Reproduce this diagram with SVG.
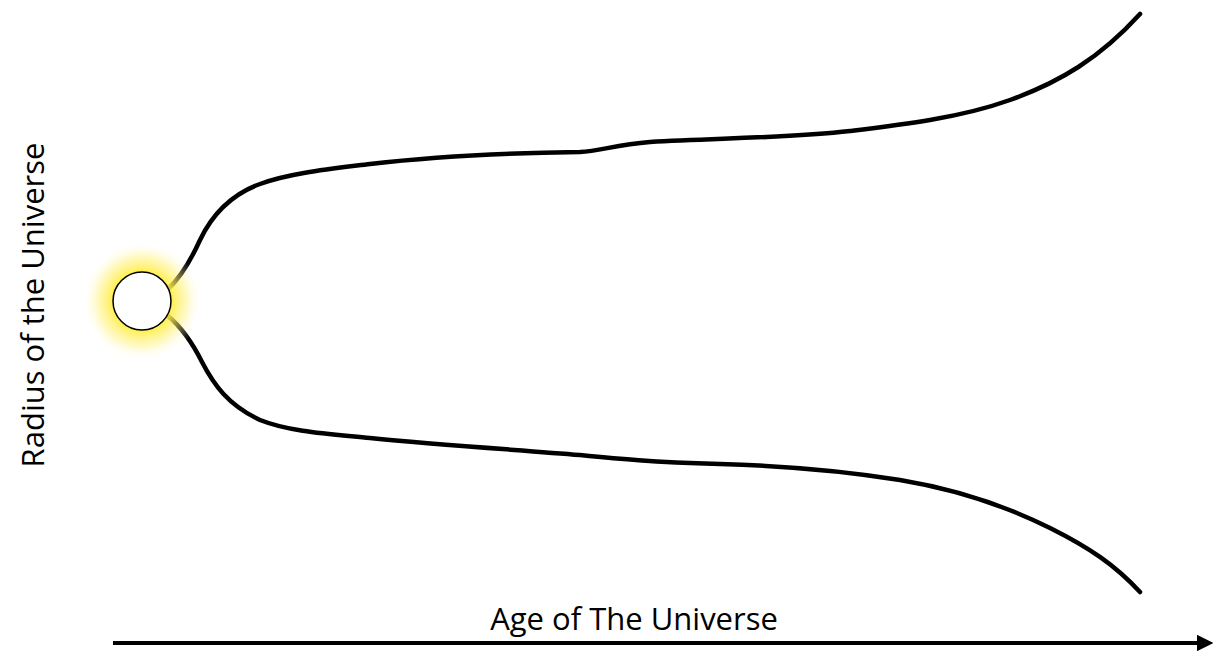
<svg xmlns="http://www.w3.org/2000/svg" width="1216" height="654" viewBox="0 0 1216 654">
<style>
.curve{fill:none;stroke:#000;stroke-width:4.5;stroke-linecap:round;stroke-linejoin:round}
.lbl{font-family:"Open Sans","Liberation Sans",sans-serif;font-size:31px;fill:#000}
</style>
<defs>
<radialGradient id="glow" cx="0.5" cy="0.5" r="0.5">
<stop offset="0.5" stop-color="#ffee44" stop-opacity="0.9"/>
<stop offset="0.75" stop-color="#fff27a" stop-opacity="0.45"/>
<stop offset="1" stop-color="#ffffff" stop-opacity="0"/>
</radialGradient>
<marker id="ah" viewBox="0 0 10 10" refX="2" refY="5" markerWidth="4.2" markerHeight="4.2" orient="auto" markerUnits="strokeWidth">
<path d="M0,0 L10,5 L0,10 z" fill="#000"/>
</marker>
</defs>
<g id="connectors">
<path class="curve" d="M168,289 C180,278 190,262 200,240 C212,215 230,195 260,184 C290,173 330,169 370,164 C430,157 500,153 580,152 C600,151 615,145 650,142 C720,138 790,138 850,131 C900,125 960,118 1010,100 C1060,82 1100,58 1140,14"/>
<path class="curve" d="M168,316 C180,326 192,342 202,362 C214,385 228,405 260,420 C290,432 330,434 370,438 C440,445 520,450 580,455 C620,459 650,462 720,464 C790,466 850,472 900,480 C960,490 1010,508 1050,528 C1090,548 1115,565 1140,592"/>
<line x1="113" y1="643" x2="1200" y2="643" stroke="#000" stroke-width="4" marker-end="url(#ah)"/>
</g>
<g id="bigbang">
<circle cx="142" cy="301" r="60" fill="url(#glow)"/>
<circle cx="142" cy="301" r="29" fill="#fff" stroke="#000" stroke-width="1.5"/>
</g>
<g id="xlabel">
<text class="lbl" x="634" y="630" text-anchor="middle">Age of The Universe</text>
</g>
<g id="ylabel">
<text class="lbl" transform="translate(44,305) rotate(-90)" text-anchor="middle">Radius of the Universe</text>
</g>
</svg>
